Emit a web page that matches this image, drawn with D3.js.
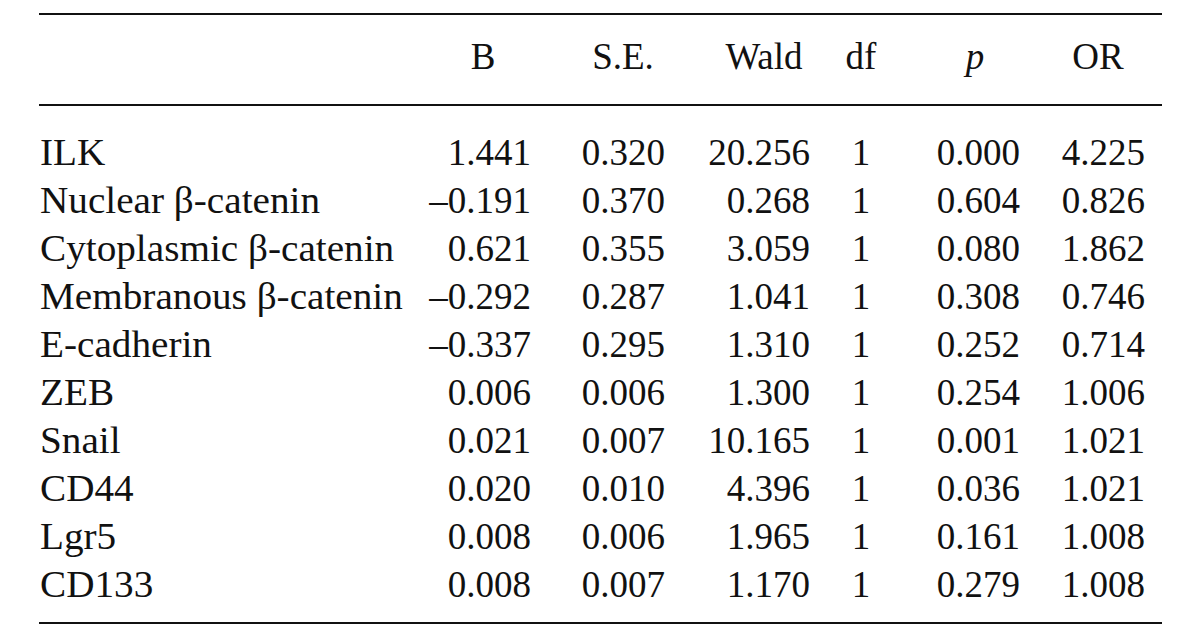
<!DOCTYPE html>
<html>
<head>
<meta charset="utf-8">
<script src="https://cdn.jsdelivr.net/npm/d3@7"></script>
<style>
  body { margin: 0; background: #fff; }
  svg { display: block; }
  text { font-family: "Liberation Serif", "Times New Roman", serif; font-size: 37px; fill: #111; }
</style>
</head>
<body>
<div id="table"></div>
<script>
/* Logistic regression table, drawn as an svg */

const variables = ["ILK", "Nuclear β-catenin", "Cytoplasmic β-catenin", "Membranous β-catenin",
                   "E-cadherin", "ZEB", "Snail", "CD44", "Lgr5", "CD133"];
const columns = ["B", "S.E.", "Wald", "df", "p", "OR"];

const B    = [1.441, -0.191, 0.621, -0.292, -0.337, 0.006, 0.021, 0.020, 0.008, 0.008];
const SE   = [0.320, 0.370, 0.355, 0.287, 0.295, 0.006, 0.007, 0.010, 0.006, 0.007];
const wald = [20.256, 0.268, 3.059, 1.041, 1.310, 1.300, 10.165, 4.396, 1.965, 1.170];
const df   = [1, 1, 1, 1, 1, 1, 1, 1, 1, 1];
const p    = [0.000, 0.604, 0.080, 0.308, 0.252, 0.254, 0.001, 0.036, 0.161, 0.279];
const OR   = [4.225, 0.826, 1.862, 0.746, 0.714, 1.006, 1.021, 1.021, 1.008, 1.008];

const series = [B, SE, wald, df, p, OR];

const width = 1200,
      height = 638,
      margin = ({ top: 14, right: 38, bottom: 15, left: 39 });

let svg = d3.select("#table")
    .append("svg")
    .attr("width", width)
    .attr("height", height)
    .attr("viewBox", [0, 0, width, height]);

// en dash for negatives, like the printed table
let fmt = d3.formatLocale({ decimal: ".", thousands: ",", grouping: [3], currency: ["", ""], minus: "\u2013" })
    .format(".3f");

// column positions: right edge of numbers, and header centre
let colRight = d3.scaleOrdinal()
    .domain(columns)
    .range([531, 665, 810, 868, 1020, 1145]);

let colCenter = d3.scaleOrdinal()
    .domain(columns)
    .range([483, 623, 764, 861, 975, 1098]);

let y = d3.scaleBand()
    .domain(variables)
    .range([130, 130 + 48 * variables.length]);

// rules
const rules = [14, 105, 623];
svg.selectAll(".rule")
    .data(rules)
    .join("line")
    .attr("class", "rule")
    .attr("x1", margin.left)
    .attr("x2", width - margin.right)
    .attr("y1", d => d)
    .attr("y2", d => d)
    .attr("stroke", "#111")
    .attr("stroke-width", 2.2);

// header
svg.selectAll(".head")
    .data(columns)
    .join("text")
    .attr("class", "head")
    .attr("x", d => colCenter(d))
    .attr("y", 69)
    .attr("text-anchor", "middle")
    .style("font-style", d => d === "p" ? "italic" : "normal")
    .text(d => d);

// row labels (set a little wider in the print)
svg.selectAll(".label")
    .data(variables)
    .join("text")
    .attr("class", "label")
    .attr("transform", d => `translate(${margin.left + 1},${y(d) + 35}) scale(1.06,1)`)
    .text(d => d);

// cells
let row = svg.selectAll(".row")
    .data(variables)
    .join("g")
    .attr("class", "row")
    .attr("transform", d => `translate(0,${y(d) + 35})`);

row.selectAll("text")
    .data((d, i) => columns.map((c, j) => ({ col: c, value: series[j][i] })))
    .join("text")
    .attr("x", d => d.col === "df" ? colCenter(d.col) : colRight(d.col))
    .attr("text-anchor", d => d.col === "df" ? "middle" : "end")
    .text(d => d.col === "df" ? d.value : fmt(d.value));
</script>
</body>
</html>
